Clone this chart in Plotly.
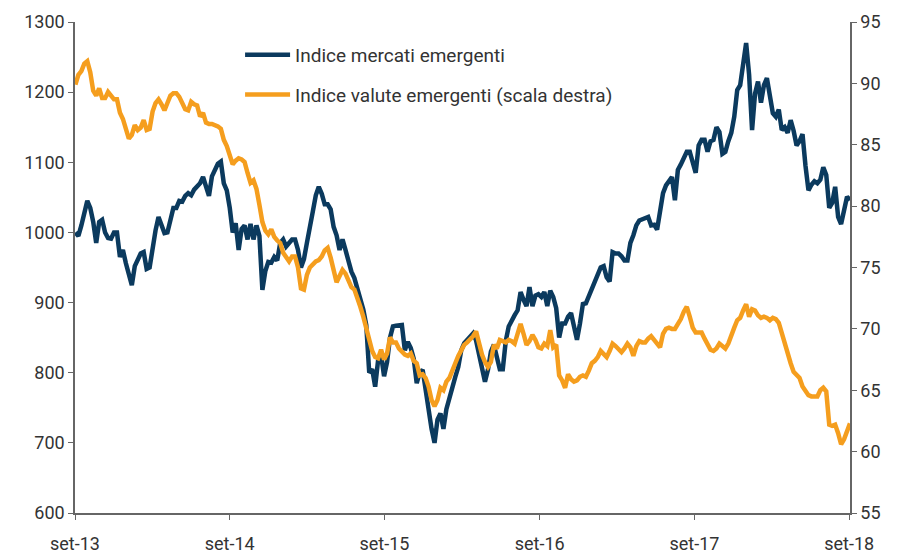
import pandas as pd
import plotly.graph_objects as go

# weekly observations, set-2013 .. set-2018
start_date = "2013-09-02"
n_weeks = 262

mercati = [
    1000, 995, 1010, 1030, 1045, 1035, 1015, 985, 1015, 1018,
    1000, 992, 991, 1000, 1000, 965, 975, 956, 940, 925,
    952, 963, 970, 972, 948, 950, 980, 1003, 1022, 1012,
    999, 1000, 1018, 1035, 1035, 1045, 1044, 1052, 1056, 1053,
    1061, 1065, 1070, 1079, 1065, 1052, 1080, 1090, 1098, 1101,
    1070, 1060, 1035, 1000, 1013, 975, 1005, 1010, 990, 1012,
    990, 1010, 995, 918, 945, 958, 957, 965, 960, 985,
    990, 980, 984, 990, 990, 975, 950, 962, 985, 1005,
    1030, 1053, 1065, 1055, 1040, 1040, 1033, 1008, 996, 975,
    990, 975, 958, 944, 935, 920, 904, 890, 868, 800,
    805, 780, 818, 825, 795, 815, 850, 866, 867, 868,
    868, 832, 844, 835, 820, 785, 800, 804, 775, 748,
    720, 700, 733, 742, 720, 748, 765, 780, 794, 808,
    832, 842, 847, 852, 856, 846, 825, 808, 787, 804,
    830, 840, 820, 805, 805, 845, 866, 875, 882, 889,
    915, 904, 895, 922, 895, 910, 912, 908, 915, 895,
    917, 908, 892, 850, 870, 870, 880, 885, 862, 847,
    870, 898, 899, 910, 920, 930, 940, 950, 952, 936,
    930, 972, 970, 970, 966, 960, 960, 985, 996, 1010,
    1017, 1019, 1020, 1022, 1010, 1011, 1004, 1035, 1056, 1067,
    1074, 1079, 1046, 1089, 1097, 1105, 1115, 1115, 1100, 1085,
    1124, 1132, 1132, 1115, 1130, 1132, 1150, 1143, 1112, 1115,
    1130, 1142, 1165, 1203, 1210, 1242, 1270, 1225, 1146, 1198,
    1215, 1185, 1210, 1220, 1195, 1170, 1165, 1175, 1146, 1150,
    1142, 1160, 1145, 1124, 1130, 1140, 1095, 1060, 1068, 1073,
    1070, 1075, 1093, 1082, 1035, 1042, 1065, 1022, 1012, 1035,
    1051, 1046,
]

valute = [
    89.9, 90.7, 91.0, 91.6, 91.8, 90.9, 89.4, 89.0, 89.6, 88.8,
    88.8, 89.3, 89.0, 88.7, 88.7, 87.6, 87.1, 86.4, 85.5, 85.8,
    86.6, 86.2, 86.4, 87.0, 86.2, 86.3, 87.7, 88.4, 88.7, 88.3,
    87.8, 88.4, 89.0, 89.2, 89.2, 88.9, 88.3, 87.9, 87.8, 88.5,
    88.3, 88.2, 87.3, 87.6, 86.8, 86.7, 86.7, 86.6, 86.5, 86.3,
    85.4, 84.9, 84.1, 83.4, 83.7, 83.9, 83.8, 83.6, 82.7, 81.9,
    82.1, 81.4, 80.1, 78.7, 78.0, 77.7, 78.1, 77.5, 77.2, 77.0,
    76.2, 75.9, 75.5, 75.9, 75.9, 75.0, 73.3, 73.2, 74.4, 75.0,
    75.3, 75.5, 75.6, 75.9, 76.4, 76.6, 75.8, 74.8, 73.8, 74.3,
    74.8, 74.5, 74.0, 73.4, 73.2, 72.6, 71.8, 71.0, 70.0, 68.9,
    68.2, 67.7, 67.6, 68.3, 67.5, 68.0, 69.3, 68.9, 68.9, 68.4,
    68.1, 67.9, 67.8, 68.0, 67.4, 67.2, 66.2, 66.3, 66.0, 65.3,
    64.2, 63.7, 64.2, 65.2, 65.0, 65.7, 66.0, 66.5, 67.2, 67.8,
    68.3, 68.7, 68.9, 69.1, 69.4, 69.8, 68.8, 67.9, 67.3, 66.9,
    67.3, 68.7, 68.4, 69.1, 69.0, 68.9, 69.1, 69.0, 68.8, 69.6,
    70.4, 69.6, 68.7, 69.0, 69.5, 69.1, 68.5, 68.4, 68.8, 68.6,
    69.9, 68.5, 68.7, 66.2, 65.8, 65.2, 66.3, 65.9, 65.7, 65.8,
    66.1, 66.2, 66.1, 66.6, 67.2, 67.4, 67.7, 68.2, 68.0, 67.7,
    68.2, 68.8, 68.6, 68.4, 68.1, 68.4, 68.8, 68.5, 67.8, 68.6,
    69.0, 68.9, 68.9, 69.2, 69.4, 69.1, 68.8, 68.5, 69.6, 70.0,
    70.1, 70.0, 70.0, 70.4, 70.8, 71.4, 71.8, 71.0, 70.1, 69.7,
    69.7, 69.7, 69.2, 68.7, 68.3, 68.2, 68.4, 68.8, 68.6, 68.4,
    68.8, 69.6, 70.1, 70.7, 70.9, 71.5, 72.0, 71.0, 71.6, 71.5,
    71.1, 70.9, 71.0, 70.9, 70.7, 70.9, 70.8, 70.5, 69.6, 68.7,
    68.0, 67.2, 66.5, 66.3, 66.0, 65.3, 65.0, 64.6, 64.5, 64.5,
    64.5, 65.0, 65.2, 64.9, 62.2, 62.1, 62.2, 61.5, 60.6, 61.0,
    61.7, 62.3,
]

tick_dates = ["2013-09-01", "2014-09-01", "2015-09-01", "2016-09-01", "2017-09-01", "2018-09-01"]
tick_labels = ["set-13", "set-14", "set-15", "set-16", "set-17", "set-18"]

dates = pd.date_range(start_date, periods=n_weeks, freq="7D")

FONT = "Roboto, Liberation Sans, sans-serif"
BLUE = "#0b3a5e"
ORANGE = "#f59e1e"
AXIS = "#666666"
TXT = "#333333"

fig = go.Figure()
fig.add_trace(go.Scatter(
    x=dates, y=mercati, mode="lines", name="Indice mercati emergenti",
    line=dict(color=BLUE, width=4.5), yaxis="y", legend="legend"))
fig.add_trace(go.Scatter(
    x=dates, y=valute, mode="lines", name="Indice valute emergenti (scala destra)",
    line=dict(color=ORANGE, width=4.5), yaxis="y2", legend="legend2"))

axis_common = dict(
    showgrid=False, zeroline=False, automargin=False,
    showline=True, linecolor=AXIS, linewidth=1.5,
    ticks="outside", ticklen=5, tickcolor=AXIS, tickwidth=1,
    tickfont=dict(size=18, color=TXT),
)

fig.update_layout(
    width=904, height=559,
    margin=dict(l=75, r=54, t=22, b=46),
    paper_bgcolor="white", plot_bgcolor="white",
    font=dict(family=FONT, size=18, color=TXT),
    xaxis=dict(type="date", range=["2013-09-01", "2018-09-03"],
               tickvals=tick_dates, ticktext=tick_labels,
               ticklabelstandoff=9, **axis_common),
    yaxis=dict(range=[600, 1300], dtick=100, tick0=600, **axis_common),
    yaxis2=dict(range=[55, 95], dtick=5, tick0=55, overlaying="y", side="right",
                **axis_common),
    legend=dict(x=0.213, y=0.933, xanchor="left", yanchor="middle", itemwidth=45,
                bgcolor="rgba(0,0,0,0)", font=dict(size=19, color=TXT)),
    legend2=dict(x=0.213, y=0.852, xanchor="left", yanchor="middle", itemwidth=45,
                 bgcolor="rgba(0,0,0,0)", font=dict(size=19, color=TXT)),
    showlegend=True,
)

fig.write_html("out.html", config={"displayModeBar": False},
               post_script="document.body.style.margin='0';document.body.style.padding='0';")
